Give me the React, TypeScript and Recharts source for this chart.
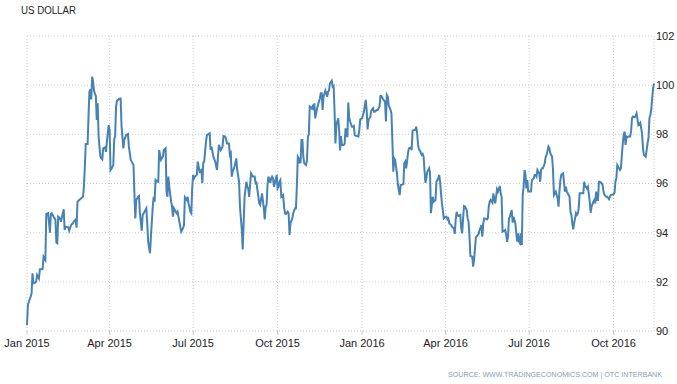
import React from 'react';
import { LineChart, Line, XAxis, YAxis, CartesianGrid } from 'recharts';

// Day offsets counted from 1 Jan 2015, and US Dollar index values
const daysA = [0,1,2,4,5,6,7,9,10,11,13,14,17,18,20,21,23,25,26,27,29,31,32,33,34,36,37,39,40,41,42,45,46,48,50,51,53,54,55,57,59,61,62,63,64,66,67,68,69,70,71,72,73,74,75,76,77,78,79,80,81,82,83,85,86,87,89,90,91,93,94,95,96,97,98,101,102,103,105,106];
const valuesA = [90.24,91.06,91.19,91.40,91.53,92.35,91.94,91.97,92.01,92.28,92.14,92.51,92.52,93.02,92.89,94.76,94.79,94.00,94.76,94.79,94.65,94.52,93.59,93.57,94.65,94.58,94.45,94.79,94.95,94.11,94.24,94.22,94.08,94.31,94.38,94.45,94.54,94.20,95.26,95.33,95.40,95.46,95.87,96.68,97.61,97.61,98.72,99.74,99.83,99.42,100.35,100.14,99.78,99.64,99.56,98.58,99.26,97.91,97.47,97.09,97.02,96.98,97.43,97.47,97.29,97.70,98.38,98.18,96.55,96.66,96.75,97.80,97.91,99.13,99.37,99.46,99.46,98.31,97.43,97.77];

const daysB = [108,110,111,113,114,116,117,118,119,121,122,123,125,126,128,130,131,132,134,135,137,138,139,140,142,143,144,146,148,149,151,152,153,154,155,157,158,159,160,163,164,166,168,170,171,172,174,175,176,178,179,180,181,182,183,185,186,188,190,191,192,193,195,196,199,200,201,203,205,207,208,209,211,213,214];
const valuesB = [97.97,98.01,97.50,96.96,96.89,96.75,95.60,94.58,95.33,95.46,95.49,94.79,94.08,94.72,94.85,94.99,94.38,93.63,93.16,93.84,95.06,95.46,95.26,96.14,96.07,96.07,97.36,96.96,97.09,97.36,97.43,95.67,95.46,96.28,95.87,95.26,95.06,94.65,94.99,94.79,94.85,94.45,94.04,94.18,94.31,95.44,95.33,95.46,95.19,94.85,94.79,95.87,96.35,96.21,96.28,96.35,96.89,96.48,96.55,96.01,96.85,96.89,97.70,97.97,98.04,97.36,97.50,97.09,96.89,96.55,97.09,97.57,97.36,97.50,97.93];

const daysC = [216,218,220,221,222,223,224,226,228,229,231,232,233,234,235,236,237,239,240,241,242,243,244,246,248,249,250,252,253,254,256,258,259,260,261,262,263,265,266,267,268,269,270,272,273,274,275,276,277,279,280,281,282,284,285,286,287,289,290,292,293,294,295,296,297,298,299,300,301,302,304,305,306,307,308,310,311,312,313,314,316,317,319,320,321,322,323,325];
const valuesC = [97.91,97.63,97.63,97.16,97.23,96.28,96.48,96.68,97.02,96.55,96.07,95.06,94.58,94.11,93.32,94.38,95.46,96.07,95.87,95.80,95.46,95.94,96.41,96.28,96.28,96.01,96.03,95.46,95.19,95.13,95.60,94.99,94.54,95.06,95.13,95.94,96.28,96.03,96.21,96.28,96.21,95.87,96.01,96.35,95.80,95.87,96.07,96.14,95.46,95.53,95.06,94.79,94.76,94.85,94.79,93.91,94.38,94.58,94.79,94.99,94.99,95.94,97.09,97.02,96.85,96.86,97.77,97.77,97.09,96.82,96.75,96.96,97.91,97.97,99.13,99.06,99.13,98.99,99.26,98.65,99.06,99.19,99.46,99.67,99.67,98.99,99.53,99.78];

const daysD = [327,328,329,330,332,333,334,335,336,337,338,339,340,341,342,343,345,346,347,349,350,351,352,354,355,356,357,359,361,362,363,365,366,367,369,370,371,372,373,374,375,377,378,379,381,382,384,385,386,388,390,391,392,393,394,396,397,398,399,400,401,402,403,404,406,407,408,410,411,412,413,414,415,416,418,419,420,422,423,424,425,426,427,428,430,431,432,433,434];
const valuesD = [99.53,99.74,99.78,100.07,100.18,99.94,99.97,98.99,97.63,98.38,98.52,98.65,98.18,97.34,97.93,97.57,97.57,97.61,98.24,97.88,99.29,98.65,98.52,98.31,98.31,98.34,97.97,97.93,97.91,98.18,98.61,98.65,98.79,98.92,99.40,98.99,98.20,98.58,98.65,98.72,98.96,99.06,98.92,98.92,98.99,98.99,99.13,99.56,99.56,99.42,99.33,98.52,99.60,99.53,99.19,98.99,98.85,97.77,96.48,97.02,96.96,96.68,96.41,95.94,95.53,95.94,95.94,95.98,96.82,96.89,96.62,96.89,97.23,97.43,97.47,97.36,98.15,98.18,98.18,98.31,98.04,97.57,97.39,97.34,97.16,97.20,97.09,96.55,96.03];

const daysE = [435,436,438,439,440,442,443,445,446,447,448,449,450,451,452,453,454,456,457,458,459,460,462,463,465,466,467,468,469,470,472,473,474,475,476,477,479,480,481,482,483,485,486,487,488,489,491,492,493,495,496,497,498,499,501,502,503,504,505,507,508,510,511,512,513,515,516,517,518,520,521,522,523,524,525,526,528,529,530,532,533,534,535,536,537,538,539,540,541,542];
const valuesE = [96.21,96.48,96.62,96.44,94.79,95.46,95.26,95.33,96.07,96.14,96.21,96.35,96.07,95.60,95.19,94.92,94.58,94.65,94.65,94.54,94.58,94.38,94.31,94.24,94.18,93.95,94.54,94.85,94.72,94.68,94.72,94.18,93.97,94.54,95.08,95.06,94.92,94.58,94.45,93.84,93.05,93.02,92.62,92.89,93.36,93.81,93.91,93.95,94.11,94.31,93.84,94.38,94.58,94.58,94.54,94.58,95.06,95.26,95.33,95.22,95.60,95.19,95.46,95.76,95.67,95.90,95.60,95.46,94.04,94.08,94.11,93.91,93.63,93.84,94.58,94.65,94.92,94.41,94.65,94.38,93.97,93.63,93.97,93.63,93.57,93.97,93.50,95.53,95.87,96.55];

const daysF = [543,544,545,546,548,549,550,552,553,554,555,556,558,559,560,561,562,564,565,566,568,569,570,572,573,574,575,576,578,579,580,581,582,584,586,587,588,589,591,592,593,594,595,596,598,599,600,601,602,604,606,607,608,609,610,611,613,614,615,617,618,619,620,621,622,623,624,626,627,628,629,631,632,634,635,636,639,640,641,642,643,644,646,647,648,649,650,651,652,653,654,655,657,658,659,660,662,663,664,666,667,668,670,671,672,674,675,676,677,678,679,680,681,682,683];
const valuesF = [96.35,95.80,96.14,95.67,95.67,95.67,96.14,96.21,96.35,96.35,96.28,96.55,96.41,96.07,96.55,96.62,96.62,96.82,97.09,97.16,97.50,97.43,97.23,97.09,96.55,95.53,95.60,95.67,95.40,95.06,95.67,96.14,96.35,96.41,95.67,95.87,95.67,95.60,95.46,94.85,94.72,94.38,94.14,94.38,94.79,94.72,94.79,94.99,95.60,95.60,95.60,96.07,95.87,95.87,95.80,95.87,95.26,94.81,95.06,95.26,95.33,95.19,95.67,95.33,95.33,96.07,96.07,96.01,95.94,95.67,95.53,95.46,95.46,95.36,95.46,95.53,95.56,95.63,96.07,96.21,96.75,96.68,96.55,96.62,97.16,97.63,97.97,98.11,97.57,97.91,97.88,97.91,97.91,98.11,98.65,98.72,98.69,98.75,98.85,98.38,98.42,98.47,98.04,97.43,97.16,97.09,97.36,97.63,97.84,98.65,98.79,98.99,99.46,99.86,100.07];

const tickDays = [0, 90, 181, 273, 365, 456, 547, 639];
const tickLabels = ['Jan 2015', 'Apr 2015', 'Jul 2015', 'Oct 2015', 'Jan 2016', 'Apr 2016', 'Jul 2016', 'Oct 2016'];
const yTicks = [90, 92, 94, 96, 98, 100, 102];

const allDays = [...daysA, ...daysB, ...daysC, ...daysD, ...daysE, ...daysF];
const allValues = [...valuesA, ...valuesB, ...valuesC, ...valuesD, ...valuesE, ...valuesF];
const data = allDays.slice(0, Math.min(allDays.length, allValues.length)).map((d, i) => ({ day: d, usd: allValues[i] }));

const font = "'Liberation Sans', Arial, sans-serif";

export default function App() {
  return (
    <div style={{ position: 'absolute', left: 0, top: 0, width: 677, height: 384, background: '#fff' }}>
      <LineChart width={677} height={384} data={data} margin={{ top: 36, right: 0, bottom: 0, left: 27 }}>
        <CartesianGrid stroke="#cccccc" strokeDasharray="1 2" />
        <XAxis
          dataKey="day"
          type="number"
          domain={[0, 683]}
          ticks={tickDays}
          interval={0}
          tickFormatter={(d: number) => tickLabels[tickDays.indexOf(d)]}
          axisLine={false}
          tickLine={{ stroke: '#cccccc' }}
          tickSize={4}
          tickMargin={4}
          height={53}
          tick={{ fill: '#222', fontSize: 11, fontFamily: font }}
        />
        <YAxis
          orientation="right"
          domain={[90, 102]}
          ticks={yTicks}
          interval={0}
          width={23}
          axisLine={false}
          tickLine={false}
          tickSize={0}
          tickMargin={2}
          tick={{ fill: '#222', fontSize: 11, fontFamily: font, textAnchor: 'start' }}
        />
        <Line
          type="linear"
          dataKey="usd"
          stroke="#4682b4"
          strokeWidth={2}
          dot={false}
          isAnimationActive={false}
        />
      </LineChart>
      <svg width={677} height={384} style={{ position: 'absolute', left: 0, top: 0, pointerEvents: 'none' }}>
        <text x={21} y={14} fontSize={10} fontFamily={font} fill="#222" textLength={55} lengthAdjust="spacingAndGlyphs">US DOLLAR</text>
        <text x={448} y={377} fontSize={7} fontFamily={font} fill="#8c9cb2" textLength={214} lengthAdjust="spacingAndGlyphs">SOURCE: WWW.TRADINGECONOMICS.COM | OTC INTERBANK</text>
      </svg>
    </div>
  );
}
